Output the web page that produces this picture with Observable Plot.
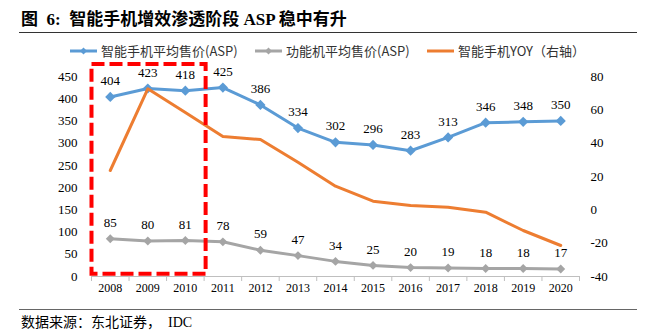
<!DOCTYPE html>
<html>
<head>
<meta charset="utf-8">
<script src="https://cdn.jsdelivr.net/npm/d3@7"></script>
<script src="https://cdn.jsdelivr.net/npm/@observablehq/plot@0.6"></script>
<style>
  html, body { margin: 0; padding: 0; background: #fff; }
  #root { position: relative; width: 654px; height: 335px; overflow: hidden; }
  .title { position: absolute; left: 21px; top: 10px; font: bold 17px/19px "Liberation Serif", "Noto Sans CJK SC", serif; color: #000; white-space: pre; }
  .rule { position: absolute; left: 19px; width: 618px; height: 0; border-top: 1px solid #333; }
  .footer { position: absolute; left: 21px; top: 314px; font: 14px/18px "Liberation Serif", "Noto Sans CJK SC", serif; color: #000; white-space: pre; }
  .legend-item { position: absolute; top: 42px; height: 18px; display: flex; align-items: center; font: 13px/18px "Noto Sans CJK SC", "Noto Sans", sans-serif; color: #333; white-space: nowrap; }
  .legend-item svg { margin-right: 3px; }
  #chart { position: absolute; left: 0; top: 56px; }
</style>
</head>
<body>
<div id="root">
  <div class="title">图  6:  智能手机增效渗透阶段 ASP 稳中有升</div>
  <div class="rule" style="top:32px"></div>
  <div id="legend"></div>
  <div id="chart"></div>
  <div class="rule" style="top:309px; border-top-color:#666"></div>
  <div class="footer">数据来源：东北证券，  IDC</div>
</div>
<script>
const years = ["2008","2009","2010","2011","2012","2013","2014","2015","2016","2017","2018","2019","2020"];
const smartphoneASP = [404, 423, 418, 425, 386, 334, 302, 296, 283, 313, 346, 348, 350];
const featurePhoneASP = [85, 80, 81, 78, 59, 47, 34, 25, 20, 19, 18, 18, 17];
const smartphoneYOY = [23.6, 72.6, 58.4, 44, 42.2, 28.6, 14.2, 5.2, 2.6, 1.6, -1.4, -12.4, -21.4];
const leftTicks = [0, 50, 100, 150, 200, 250, 300, 350, 400, 450];
const rightTicks = [-40, -20, 0, 20, 40, 60, 80];
const seriesNames = ["智能手机平均售价(ASP)", "功能机平均售价(ASP)", "智能手机YOY（右轴）"];
const seriesColors = ["#5B9BD5", "#A5A5A5", "#ED7D31"];
const highlightYears = ["2008", "2010"];
const highlightRange = [5, 477];

// legend
const legendX = [70, 255, 427];
const legend = document.getElementById("legend");
seriesNames.forEach((name, k) => {
  const item = document.createElement("div");
  item.className = "legend-item";
  item.style.left = legendX[k] + "px";
  const marker = k < 2 ? `<path d="M13.5,5.5 L17,9 L13.5,12.5 L10,9 Z" fill="${seriesColors[k]}"/>` : "";
  item.innerHTML = `<svg width="28" height="18"><line x1="0" x2="27" y1="9" y2="9" stroke="${seriesColors[k]}" stroke-width="3"/>${marker}</svg><span>${name}</span>`;
  legend.appendChild(item);
});

const leftMax = 450, rMin = -40, rMax = 80;
const toLeft = v => (v - rMin) / (rMax - rMin) * leftMax;
const fromLeft = v => Math.round(v / leftMax * (rMax - rMin) + rMin);

const data = years.map((year, i) => ({i, year, asp: smartphoneASP[i], fp: featurePhoneASP[i], yoy: toLeft(smartphoneYOY[i])}));
const boundaries = d3.range(years.length + 1).map(k => k - 0.5);
const box = [{x1: years.indexOf(highlightYears[0]) - 0.5, x2: years.indexOf(highlightYears[1]) + 0.5, y1: highlightRange[0], y2: highlightRange[1]}];

const chart = Plot.plot({
  width: 654,
  height: 250,
  marginLeft: 91,
  marginRight: 75,
  marginTop: 20,
  marginBottom: 30,
  x: {domain: [-0.5, years.length - 0.5]},
  y: {domain: [0, leftMax]},
  style: {fontFamily: "'Liberation Serif', 'Times New Roman', serif", fontSize: "13px", color: "#000", background: "transparent", overflow: "visible"},
  marks: [
    Plot.ruleY([0], {stroke: "#bfbfbf", strokeWidth: 1}),
    Plot.axisX({ticks: boundaries, tickSize: 5, tickFormat: () => "", stroke: "#bfbfbf", label: null}),
    Plot.axisX({ticks: d3.range(years.length), tickSize: 0, tickPadding: 7, tickFormat: i => years[i], fontSize: 12, label: null}),
    Plot.axisY({ticks: leftTicks, tickSize: 0, tickPadding: 14, tickFormat: d => String(d), label: null}),
    Plot.axisY({anchor: "right", ticks: rightTicks.map(toLeft), tickSize: 0, tickPadding: 11, tickFormat: v => String(fromLeft(v)), label: null}),
    Plot.line(data, {x: "i", y: "fp", stroke: seriesColors[1], strokeWidth: 3}),
    Plot.dot(data, {x: "i", y: "fp", symbol: "diamond2", r: 4, fill: seriesColors[1]}),
    Plot.line(data, {x: "i", y: "asp", stroke: seriesColors[0], strokeWidth: 3}),
    Plot.dot(data, {x: "i", y: "asp", symbol: "diamond2", r: 4.6, fill: seriesColors[0]}),
    Plot.line(data, {x: "i", y: "yoy", stroke: seriesColors[2], strokeWidth: 3}),
    Plot.text(data, {x: "i", y: "asp", text: d => String(d.asp), dy: -16, fill: "#000"}),
    Plot.text(data, {x: "i", y: "fp", text: d => String(d.fp), dy: -16, fill: "#000"}),
    Plot.rect(box, {x1: "x1", x2: "x2", y1: "y1", y2: "y2", fill: "none", stroke: "#FF0000", strokeWidth: 4, strokeDasharray: "13,5", insetLeft: 0.5, insetRight: -2})
  ]
});
document.getElementById("chart").appendChild(chart);
</script>
</body>
</html>
